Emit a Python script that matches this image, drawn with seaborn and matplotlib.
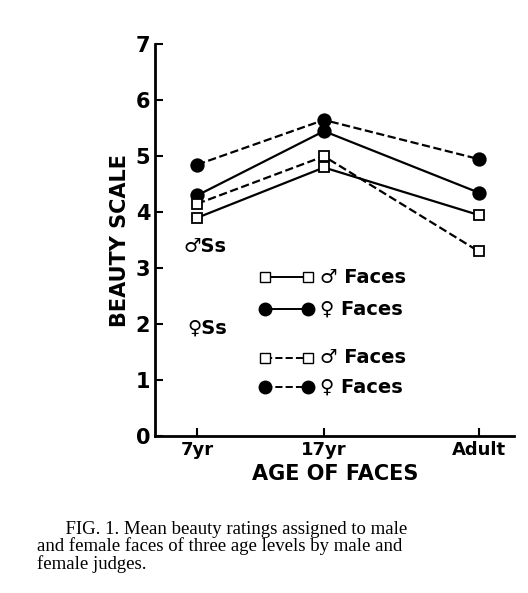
import matplotlib
matplotlib.use("Agg")
import matplotlib.pyplot as plt
import seaborn as sns
import pandas as pd
from matplotlib.lines import Line2D

ages = ["7yr", "17yr", "Adult"]
m_ss_m_faces = [3.9, 4.8, 3.95]
m_ss_f_faces = [4.3, 5.45, 4.35]
f_ss_m_faces = [4.15, 5.0, 3.3]
f_ss_f_faces = [4.85, 5.65, 4.95]

sns.set_style("ticks")
plt.rcParams['font.family'] = ['DejaVu Sans']
plt.rcParams['text.color'] = 'black'
plt.rcParams['axes.labelcolor'] = 'black'
plt.rcParams['xtick.color'] = 'black'
plt.rcParams['ytick.color'] = 'black'
plt.rcParams['axes.edgecolor'] = 'black'

fig = plt.figure(figsize=(5.28, 5.93), dpi=100)
ax = fig.add_axes([0.294, 0.265, 0.68, 0.66])

series = [
    (m_ss_m_faces, "-", "white"),
    (m_ss_f_faces, "-", "black"),
    (f_ss_m_faces, "--", "white"),
    (f_ss_f_faces, "--", "black"),
]
xpos = [0, 1, 2.22]
for vals, ls, fc in series:
    df = pd.DataFrame({"x": xpos, "y": vals})
    sns.lineplot(data=df, x="x", y="y", ax=ax, color="black", linestyle=ls,
                 marker="s" if fc == "white" else "o", markersize=7 if fc == "white" else 9,
                 markerfacecolor=fc, markeredgecolor="black", markeredgewidth=1.3, linewidth=1.6)

ax.set_xlim(-0.33, 2.5)
ax.set_ylim(0, 7)
ax.set_xticks(xpos)
ax.set_xticklabels(ages, fontsize=13, fontweight="bold")
ax.set_yticks(range(8))
ax.set_yticklabels([str(i) for i in range(8)], fontsize=15, fontweight="bold")
ax.tick_params(direction="in", length=6, width=1.5)
for s in ["left", "bottom"]:
    ax.spines[s].set_linewidth(2)
sns.despine(ax=ax)
ax.set_xlabel("AGE OF FACES", fontsize=15, fontweight="bold")
ax.set_ylabel("BEAUTY SCALE", fontsize=15, fontweight="bold")

# key
rows = [(0.405, "-", "s", "white", "♂ Faces"), (0.325, "-", "o", "black", "♀ Faces"),
        (0.20, "--", "s", "white", "♂ Faces"), (0.125, "--", "o", "black", "♀ Faces")]
for y, ls, mk, fc, lab in rows:
    ax.add_line(Line2D([0.305, 0.425], [y, y], transform=ax.transAxes, color="black",
                       linestyle=ls, marker=mk, markersize=7 if mk == "s" else 9,
                       markerfacecolor=fc, markeredgecolor="black", linewidth=1.4))
    ax.text(0.46, y, lab, transform=ax.transAxes, fontsize=14, fontweight="bold", va="center")
ax.text(0.08, 0.485, "♂Ss", transform=ax.transAxes, fontsize=14, fontweight="bold", va="center")
ax.text(0.09, 0.275, "♀Ss", transform=ax.transAxes, fontsize=14, fontweight="bold", va="center")

fig.text(0.07, 0.04, "      FIG. 1. Mean beauty ratings assigned to male\nand female faces of three age levels by male and\nfemale judges.",
         family="Liberation Serif", fontsize=13.5, linespacing=1.0)

fig.savefig("out.png", dpi=100)
